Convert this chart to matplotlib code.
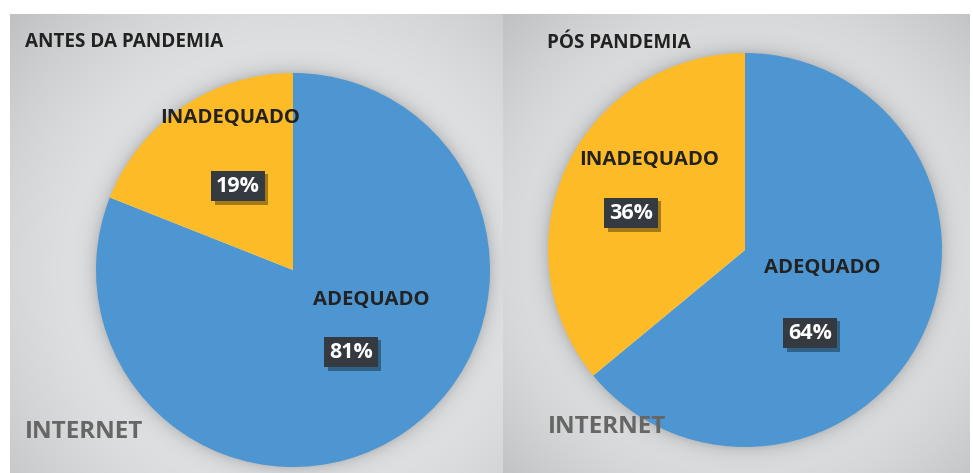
import numpy as np
import matplotlib
matplotlib.use("Agg")
import matplotlib.pyplot as plt
import matplotlib.patheffects as pe

# ---- data ----
panel_titles = ["ANTES DA PANDEMIA", "PÓS PANDEMIA"]
categories = ["ADEQUADO", "INADEQUADO"]
values_before = [81, 19]
values_after = [64, 36]
source_label = "INTERNET"

# ---- style ----
W, H = 973, 473
BLUE = "#4e96d2"
YELLOW = "#fdbc27"
BOX = "#353a40"
FONT = "Open Sans"

fig = plt.figure(figsize=(W / 100, H / 100), dpi=100)
fig.patch.set_facecolor("white")

# panel geometry in pixels: (x0, x1, y0, y1), pie centre, radius
panels = [
    dict(box=(10, 503, 14, 473), c=(293, 270), r=197, values=values_before,
         title_xy=(25, 42), src_xy=(25, 432),
         name_xy={"ADEQUADO": (371, 300), "INADEQUADO": (230, 118)},
         pct_xy={"ADEQUADO": (351, 352), "INADEQUADO": (238, 186)}),
    dict(box=(503, 970, 14, 473), c=(745, 250), r=197, values=values_after,
         title_xy=(547, 43), src_xy=(548, 427),
         name_xy={"ADEQUADO": (822, 268), "INADEQUADO": (649, 160)},
         pct_xy={"ADEQUADO": (810, 333), "INADEQUADO": (631, 213)}),
]


def px_axes(x0, x1, y0, y1):
    return fig.add_axes([x0 / W, 1 - y1 / H, (x1 - x0) / W, (y1 - y0) / H])


for p in panels:
    x0, x1, y0, y1 = p["box"]
    cx, cy = p["c"]
    R = p["r"]
    # background with radial gradient + soft shadow around pie
    axb = px_axes(x0, x1, y0, y1)
    xs = np.arange(x0, x1) + 0.5
    ys = np.arange(y0, y1) + 0.5
    X, Y = np.meshgrid(xs, ys)
    d = np.hypot(X - cx, Y - cy)
    dmax = d.max()
    v = 0.92 - 0.17 * (d / dmax) ** 2.4
    out = np.clip(d - R, 0, None)
    v = v - 0.14 * np.exp(-out / 8.0) * (d > R - 2)
    img = np.dstack([v, v + 0.004, v + 0.008])
    img = np.clip(img, 0, 1)
    axb.imshow(img, extent=(x0, x1, y1, y0), aspect="auto", interpolation="bilinear")
    axb.set_xlim(x0, x1)
    axb.set_ylim(y1, y0)
    axb.axis("off")

    # pie
    axp = px_axes(cx - R, cx + R, cy - R, cy + R)
    axp.pie(p["values"], colors=[BLUE, YELLOW], startangle=90, counterclock=False,
            radius=1, wedgeprops=dict(linewidth=0))
    axp.set_xlim(-1, 1)
    axp.set_ylim(-1, 1)
    axp.axis("off")

# overlay for text in pixel coordinates
axt = fig.add_axes([0, 0, 1, 1])
axt.set_xlim(0, W)
axt.set_ylim(H, 0)
axt.axis("off")

for p, title in zip(panels, panel_titles):
    axt.text(*p["title_xy"], title, ha="left", va="center", fontsize=13.6,
             fontweight="bold", color="#222222", family=FONT)
    axt.text(*p["src_xy"], source_label, ha="left", va="center", fontsize=17.5,
             fontweight="bold", color="#666666", family=FONT)
    for cat, val in zip(categories, p["values"]):
        axt.text(*p["name_xy"][cat], cat, ha="center", va="center", fontsize=14.6,
                 fontweight="bold", color="#222222", family=FONT)
        tx, ty = p["pct_xy"][cat]
        t = axt.text(tx, ty, f"{val}%", ha="center", va="center", fontsize=15.5,
                     fontweight="bold", color="white", family=FONT,
                     bbox=dict(boxstyle="square,pad=0.22", fc=BOX, ec="none"))
        t.get_bbox_patch().set_path_effects(
            [pe.SimplePatchShadow(offset=(2.5, -2.5), shadow_rgbFace="black", alpha=0.35),
             pe.Normal()])

fig.savefig("out.png", dpi=100)
